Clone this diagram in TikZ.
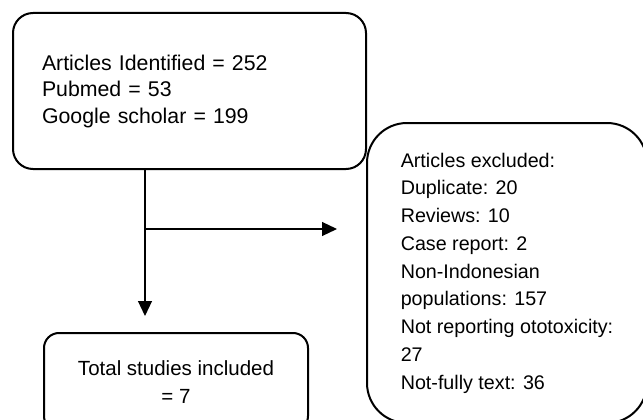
\documentclass[tikz,border=0pt]{standalone}
\usepackage{fontspec}
\setmainfont{Liberation Sans}
\usetikzlibrary{arrows.meta}
\begin{document}
\begin{tikzpicture}[x=1pt,y=-1pt,
  boxstyle/.style={draw, line width=2pt, rounded corners=#1, inner sep=0pt},
  conn/.style={line width=1.2pt, -{Triangle[length=15pt,width=14pt]}}]
\useasboundingbox (0,0) rectangle (643,420);
\clip (0,0) rectangle (643,420);
\node[boxstyle=20pt, minimum width=353pt, minimum height=156pt, text width=295pt, align=left,
      font=\fontsize{21.3}{26.5}\selectfont] (ident) at (189.5,91)
  {Articles Identified = 252\\Pubmed = 53\\Google scholar = 199};
\node[boxstyle=40pt, minimum width=280pt, minimum height=300pt, align=left,
      font=\fontsize{19.7}{27.75}\selectfont] (excl) at (507,273)
  {Articles excluded:\\Duplicate: 20\\Reviews: 10\\Case report: 2\\Non-Indonesian\\populations: 157\\Not reporting ototoxicity:\\27\\Not-fully text: 36};
\node[boxstyle=15pt, minimum width=264pt, minimum height=98pt, align=center,
      font=\fontsize{20.5}{28}\selectfont] (incl) at (176,382)
  {Total studies included\\= 7};
\coordinate (v) at (145,229);
\draw[conn, shorten >=16pt] (ident.south -| v) -- (v |- incl.north);
\draw[conn, shorten >=29pt] (v) -- (v -| excl.west);
\end{tikzpicture}
\end{document}
